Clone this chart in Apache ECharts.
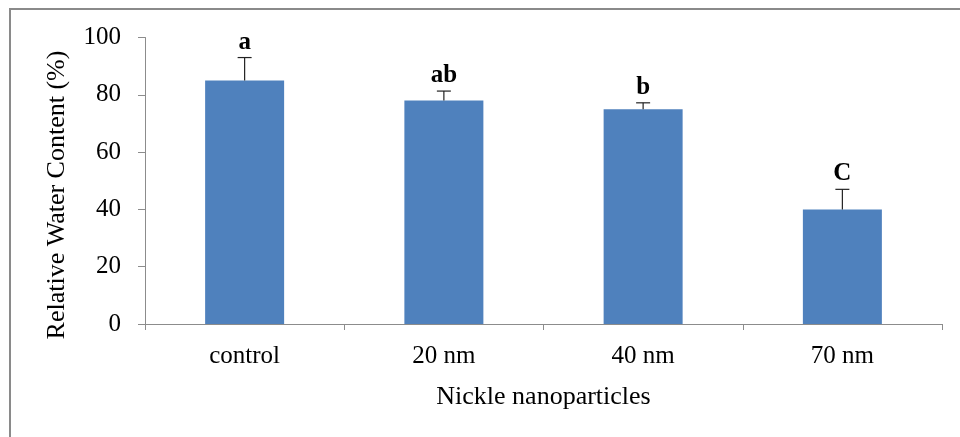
<!DOCTYPE html>
<html>
<head>
<meta charset="utf-8">
<script src="https://cdn.jsdelivr.net/npm/echarts@6/dist/echarts.min.js"></script>
<style>html,body{margin:0;padding:0;background:#fff;}#c{width:960px;height:437px;}</style>
</head>
<body>
<div id="c"></div>
<script>
const categories = ['control', '20 nm', '40 nm', '70 nm'];
const values = [85, 78, 75, 40];
const errors = [8, 3.3, 2.2, 7];
const letters = ['a', 'ab', 'b', 'C'];
const yTicks = [0, 20, 40, 60, 80, 100];
const xTitle = 'Nickle nanoparticles';
const yTitle = 'Relative Water Content (%)';

const FONT = '"Liberation Serif", "Times New Roman", serif';
const AXIS_COLOR = '#8c8c8c';

const chart = echarts.init(document.getElementById('c'), null, {renderer: 'canvas'});
chart.setOption({
  animation: false,
  backgroundColor: '#fff',
  graphic: [
    {
      type: 'rect',
      shape: {x: 10, y: 9, width: 1000, height: 500},
      style: {fill: 'none', stroke: '#8a8a8a', lineWidth: 2},
      z: 0
    },
    {
      type: 'text',
      x: 57, y: 195,
      rotation: Math.PI / 2,
      style: {text: yTitle, font: '26px ' + FONT, fill: '#000', textAlign: 'center', textVerticalAlign: 'middle'},
      z: 5
    }
  ],
  grid: {left: 145, right: 18, top: 37.5, bottom: 113},
  xAxis: {
    type: 'category',
    data: categories,
    boundaryGap: true,
    name: xTitle,
    nameLocation: 'middle',
    nameGap: 60,
    nameTextStyle: {fontFamily: FONT, fontSize: 26, color: '#000'},
    axisLine: {show: true, lineStyle: {color: AXIS_COLOR, width: 1}},
    axisTick: {show: true, length: 6, alignWithLabel: false, lineStyle: {color: AXIS_COLOR}},
    axisLabel: {fontFamily: FONT, fontSize: 25, color: '#000', margin: 20}
  },
  yAxis: {
    type: 'value',
    min: yTicks[0],
    max: yTicks[yTicks.length - 1],
    interval: 20,
    axisLine: {show: true, lineStyle: {color: AXIS_COLOR, width: 1}},
    axisTick: {show: true, length: 7, lineStyle: {color: AXIS_COLOR}},
    axisLabel: {fontFamily: FONT, fontSize: 25, color: '#000', margin: 24},
    splitLine: {show: false}
  },
  series: [
    {
      type: 'bar',
      data: values,
      barWidth: 79,
      itemStyle: {color: '#4F81BD'},
      z: 2
    },
    {
      type: 'custom',
      data: values.map((v, i) => [i, v, errors[i]]),
      z: 3,
      renderItem: function (params, api) {
        const i = api.value(0);
        const v = api.value(1);
        const e = api.value(2);
        const base = api.coord([i, v]);
        const top = api.coord([i, v + e]);
        const cap = 7;
        return {
          type: 'group',
          children: [
            {type: 'line', shape: {x1: base[0], y1: base[1], x2: top[0], y2: top[1]}, style: {stroke: '#222', lineWidth: 1.2}},
            {type: 'line', shape: {x1: top[0] - cap, y1: top[1], x2: top[0] + cap, y2: top[1]}, style: {stroke: '#222', lineWidth: 1.2}},
            {type: 'text', x: top[0], y: top[1] - 3, style: {text: letters[params.dataIndex], font: 'bold 25px ' + FONT, fill: '#000', textAlign: 'center', textVerticalAlign: 'bottom'}}
          ]
        };
      }
    }
  ]
});
</script>
</body>
</html>
